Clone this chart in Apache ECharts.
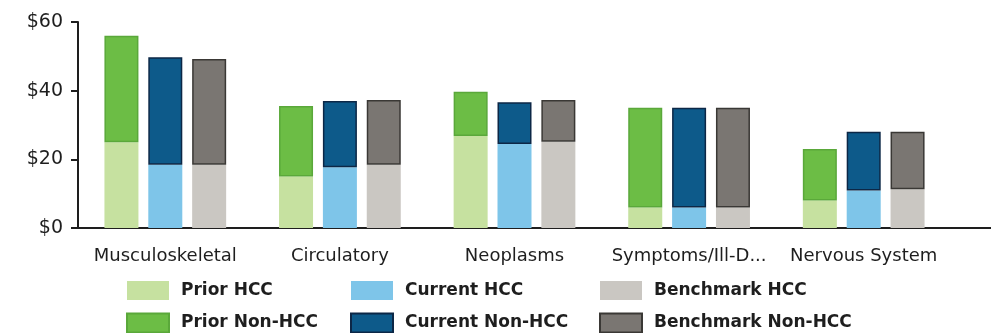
<!DOCTYPE html>
<html>
<head>
<meta charset="utf-8">
<script src="https://cdn.jsdelivr.net/npm/echarts@6/dist/echarts.min.js"></script>
<style>
  html, body { margin: 0; padding: 0; background: #ffffff; }
  #chart { width: 991px; height: 333px; }
</style>
</head>
<body>
<div id="chart"></div>
<script>
// Cost per member by condition category, split into HCC and non-HCC portions
const categories = ['Musculoskeletal', 'Circulatory', 'Neoplasms', 'Symptoms/Ill-D...', 'Nervous System'];

const priorHcc        = [25.0, 15.0, 26.8, 6.0, 8.0];
const priorNonHcc     = [31.0, 20.5, 12.9, 29.0, 15.0];
const currentHcc      = [18.4, 17.7, 24.5, 6.0, 10.9];
const currentNonHcc   = [31.3, 19.3, 12.1, 29.0, 17.1];
const benchmarkHcc    = [18.4, 18.4, 25.1, 6.0, 11.3];
const benchmarkNonHcc = [30.8, 18.9, 12.2, 29.0, 16.7];

const yTicks = [0, 20, 40, 60];

const FONT = '"DejaVu Sans", sans-serif';

function barSeries(name, stack, data, color, border) {
  return {
    name: name,
    type: 'bar',
    stack: stack,
    data: data,
    barWidth: 34,
    barGap: '29%',
    itemStyle: {
      color: color,
      borderColor: border || color,
      borderWidth: border ? 1.5 : 0
    },
    emphasis: { disabled: true }
  };
}

const legendBase = {
  type: 'plain',
  orient: 'vertical',
  top: 281,
  height: 80,
  padding: 0,
  itemWidth: 42,
  itemHeight: 19,
  itemGap: 12.5,
  icon: 'rect',
  textStyle: { fontFamily: FONT, fontSize: 17, fontWeight: 'bold', color: '#1e1e1e', padding: [0, 0, 0, 7] },
  selectedMode: false
};

const chart = echarts.init(document.getElementById('chart'), null, { renderer: 'canvas' });

chart.setOption({
  animation: false,
  backgroundColor: '#ffffff',
  grid: { left: 78, right: 40, top: 22, bottom: 105, containLabel: false },
  xAxis: {
    type: 'category',
    data: categories,
    axisLine: { show: true, lineStyle: { color: '#1e1e1e', width: 2 } },
    axisTick: { show: false },
    axisLabel: { fontFamily: FONT, fontSize: 18, color: '#1e1e1e', margin: 19, interval: 0 }
  },
  yAxis: {
    type: 'value',
    min: yTicks[0],
    max: yTicks[yTicks.length - 1],
    interval: yTicks[1] - yTicks[0],
    splitLine: { show: false },
    axisLine: { show: true, lineStyle: { color: '#1e1e1e', width: 2 } },
    axisTick: { show: true, length: 7, lineStyle: { color: '#1e1e1e', width: 2 } },
    axisLabel: {
      fontFamily: FONT, fontSize: 19, color: '#1e1e1e', margin: 15,
      formatter: v => '$' + v
    }
  },
  legend: [
    Object.assign({}, legendBase, { left: 126, data: ['Prior HCC', 'Prior Non-HCC'] }),
    Object.assign({}, legendBase, { left: 350, data: ['Current HCC', 'Current Non-HCC'] }),
    Object.assign({}, legendBase, { left: 599, data: ['Benchmark HCC', 'Benchmark Non-HCC'] })
  ],
  // baseline continues past the last category band
  graphic: [{
    type: 'line',
    shape: { x1: 950, y1: 228, x2: 991, y2: 228 },
    style: { stroke: '#1e1e1e', lineWidth: 2 },
    silent: true
  }],
  series: [
    barSeries('Prior HCC', 'prior', priorHcc, '#c6e1a0'),
    barSeries('Prior Non-HCC', 'prior', priorNonHcc, '#6cbd45', '#5aa83a'),
    barSeries('Current HCC', 'current', currentHcc, '#7ec5e9'),
    barSeries('Current Non-HCC', 'current', currentNonHcc, '#0d5a8a', '#0c2746'),
    barSeries('Benchmark HCC', 'bench', benchmarkHcc, '#cac7c2'),
    barSeries('Benchmark Non-HCC', 'bench', benchmarkNonHcc, '#7a7672', '#3a3835')
  ]
});
</script>
</body>
</html>
